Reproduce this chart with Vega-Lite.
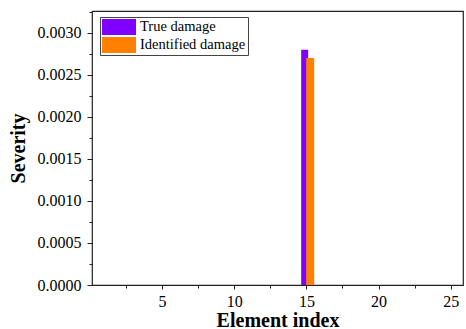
{
  "$schema": "https://vega.github.io/schema/vega-lite/v6.json",
  "width": 371,
  "height": 274,
  "autosize": "none",
  "padding": {"left": 92, "top": 11, "right": 3, "bottom": 44},
  "background": "white",
  "config": {
    "view": {"stroke": "#222", "strokeWidth": 1.2},
    "font": "Liberation Serif",
    "style": {
      "guide-label": {"font": "Liberation Serif", "fill": "black"},
      "guide-title": {"font": "Liberation Serif", "fill": "black"}
    },
    "axis": {
      "labelFont": "Liberation Serif",
      "titleFont": "Liberation Serif",
      "labelColor": "black",
      "titleColor": "black",
      "domain": false,
      "grid": false,
      "tickColor": "#222",
      "tickWidth": 1
    }
  },
  "data": {
    "values": [
      {"element": 1, "series": "True damage", "severity": 0},
      {"element": 2, "series": "True damage", "severity": 0},
      {"element": 3, "series": "True damage", "severity": 0},
      {"element": 4, "series": "True damage", "severity": 0},
      {"element": 5, "series": "True damage", "severity": 0},
      {"element": 6, "series": "True damage", "severity": 0},
      {"element": 7, "series": "True damage", "severity": 0},
      {"element": 8, "series": "True damage", "severity": 0},
      {"element": 9, "series": "True damage", "severity": 0},
      {"element": 10, "series": "True damage", "severity": 0},
      {"element": 11, "series": "True damage", "severity": 0},
      {"element": 12, "series": "True damage", "severity": 0},
      {"element": 13, "series": "True damage", "severity": 0},
      {"element": 14, "series": "True damage", "severity": 0},
      {"element": 15, "series": "True damage", "severity": 0.0028},
      {"element": 16, "series": "True damage", "severity": 0},
      {"element": 17, "series": "True damage", "severity": 0},
      {"element": 18, "series": "True damage", "severity": 0},
      {"element": 19, "series": "True damage", "severity": 0},
      {"element": 20, "series": "True damage", "severity": 0},
      {"element": 21, "series": "True damage", "severity": 0},
      {"element": 22, "series": "True damage", "severity": 0},
      {"element": 23, "series": "True damage", "severity": 0},
      {"element": 24, "series": "True damage", "severity": 0},
      {"element": 25, "series": "True damage", "severity": 0},
      {"element": 1, "series": "Identified damage", "severity": 0},
      {"element": 2, "series": "Identified damage", "severity": 0},
      {"element": 3, "series": "Identified damage", "severity": 0},
      {"element": 4, "series": "Identified damage", "severity": 0},
      {"element": 5, "series": "Identified damage", "severity": 0},
      {"element": 6, "series": "Identified damage", "severity": 0},
      {"element": 7, "series": "Identified damage", "severity": 0},
      {"element": 8, "series": "Identified damage", "severity": 0},
      {"element": 9, "series": "Identified damage", "severity": 0},
      {"element": 10, "series": "Identified damage", "severity": 0},
      {"element": 11, "series": "Identified damage", "severity": 0},
      {"element": 12, "series": "Identified damage", "severity": 0},
      {"element": 13, "series": "Identified damage", "severity": 0},
      {"element": 14, "series": "Identified damage", "severity": 0},
      {"element": 15, "series": "Identified damage", "severity": 0.0027},
      {"element": 16, "series": "Identified damage", "severity": 0},
      {"element": 17, "series": "Identified damage", "severity": 0},
      {"element": 18, "series": "Identified damage", "severity": 0},
      {"element": 19, "series": "Identified damage", "severity": 0},
      {"element": 20, "series": "Identified damage", "severity": 0},
      {"element": 21, "series": "Identified damage", "severity": 0},
      {"element": 22, "series": "Identified damage", "severity": 0},
      {"element": 23, "series": "Identified damage", "severity": 0},
      {"element": 24, "series": "Identified damage", "severity": 0},
      {"element": 25, "series": "Identified damage", "severity": 0}
    ]
  },
  "encoding": {
    "x": {
      "field": "element",
      "type": "quantitative",
      "scale": {"domain": [0.5, 25.5], "nice": false, "zero": false},
      "axis": {
        "title": "Element index",
        "values": [2.5, 5, 7.5, 10, 12.5, 15, 17.5, 20, 22.5, 25],
        "labelExpr": "datum.value % 5 === 0 ? format(datum.value, 'd') : ''",
        "tickSize": {"condition": {"test": "datum.value % 5 === 0", "value": 4}, "value": 3},
        "labelFont": "Liberation Serif",
        "titleFont": "Liberation Serif",
        "labelFontSize": 16,
        "titleFontSize": 20,
        "titleFontWeight": "bold",
        "labelPadding": 4,
        "titlePadding": 1
      }
    },
    "y": {
      "field": "severity",
      "type": "quantitative",
      "scale": {"domain": [0, 0.00326], "nice": false},
      "axis": {
        "title": "Severity",
        "values": [0, 0.00025, 0.0005, 0.00075, 0.001, 0.00125, 0.0015, 0.00175, 0.002, 0.00225, 0.0025, 0.00275, 0.003, 0.00325],
        "labelExpr": "abs(round(datum.value / 0.0005) * 0.0005 - datum.value) < 1e-9 ? format(datum.value, '.4f') : ''",
        "tickSize": {"condition": {"test": "abs(round(datum.value / 0.0005) * 0.0005 - datum.value) < 1e-9", "value": 5}, "value": 3},
        "labelFont": "Liberation Serif",
        "titleFont": "Liberation Serif",
        "labelFontSize": 16,
        "titleFontSize": 20,
        "titleFontWeight": "bold",
        "labelPadding": 6,
        "titlePadding": 9
      }
    },
    "color": {
      "field": "series",
      "type": "nominal",
      "scale": {"domain": ["True damage", "Identified damage"], "range": ["#7f00ff", "#ff8000"]},
      "legend": {
        "title": null,
        "orient": "none",
        "legendX": 8,
        "legendY": 6,
        "direction": "vertical",
        "symbolType": "M-1,-0.47H1V0.47H-1Z",
        "symbolSize": 1156,
        "symbolStrokeWidth": 0,
        "symbolOpacity": 1,
        "clipHeight": 16,
        "rowPadding": 2,
        "labelFont": "Liberation Serif",
        "labelFontSize": 14.5,
        "labelColor": "black",
        "labelOffset": 4,
        "padding": 2,
        "strokeColor": "#444",
        "fillColor": "white"
      }
    }
  },
  "layer": [
    {
      "transform": [{"filter": "datum.series === 'True damage'"}],
      "mark": {"type": "bar", "size": 7, "xOffset": -1.7}
    },
    {
      "transform": [{"filter": "datum.series === 'Identified damage'"}],
      "mark": {"type": "bar", "size": 8, "xOffset": 3.8}
    }
  ]
}
